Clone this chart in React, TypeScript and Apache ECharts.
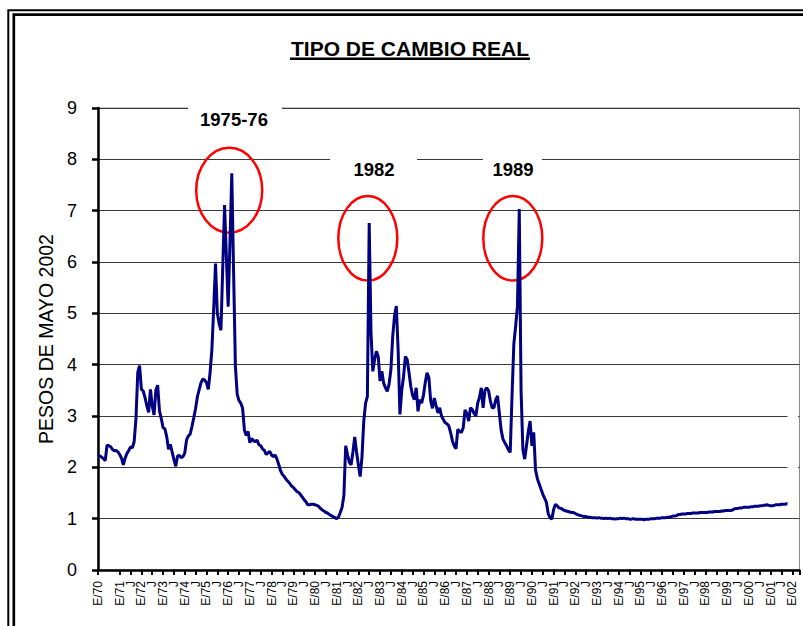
import React, { useEffect, useRef } from "react";
import * as echarts from "echarts";

// Monthly real exchange rate (pesos de mayo 2002), Jan of each year first
const v1970 = [2.25, 2.22, 2.2, 2.17, 2.13, 2.43, 2.42, 2.4, 2.35, 2.32, 2.33, 2.3];
const v1971 = [2.25, 2.18, 2.05, 2.18, 2.27, 2.33, 2.4, 2.38, 2.5, 2.95, 3.85, 3.98];
const v1972 = [3.52, 3.49, 3.36, 3.2, 3.07, 3.52, 3.2, 3.02, 3.5, 3.6, 3.1, 2.95];
const v1973 = [2.77, 2.75, 2.6, 2.35, 2.45, 2.3, 2.15, 2.02, 2.22, 2.23, 2.19, 2.21];
const v1974 = [2.28, 2.54, 2.61, 2.65, 2.8, 2.97, 3.15, 3.38, 3.52, 3.65, 3.72, 3.7];
const v1975 = [3.65, 3.52, 3.85, 4.3, 5.1, 5.97, 5.0, 4.8, 4.67, 5.9, 7.11, 6.1];
const v1976 = [5.13, 6.4, 7.73, 5.8, 3.96, 3.42, 3.3, 3.25, 3.15, 2.72, 2.62, 2.7];
const v1977 = [2.48, 2.56, 2.52, 2.5, 2.53, 2.44, 2.42, 2.36, 2.33, 2.25, 2.28, 2.31];
const v1978 = [2.24, 2.21, 2.24, 2.16, 2.05, 1.93, 1.86, 1.82, 1.77, 1.73, 1.69, 1.64];
const v1979 = [1.61, 1.57, 1.53, 1.51, 1.47, 1.42, 1.37, 1.33, 1.27, 1.27, 1.28, 1.28];
const v1980 = [1.27, 1.26, 1.24, 1.2, 1.17, 1.15, 1.12, 1.11, 1.08, 1.06, 1.04, 1.02];
const v1981 = [1.0, 1.03, 1.12, 1.22, 1.45, 2.42, 2.25, 2.1, 2.05, 2.3, 2.59, 2.3];
const v1982 = [2.05, 1.82, 2.2, 2.9, 3.25, 3.38, 6.76, 4.62, 3.87, 4.1, 4.26, 4.16];
const v1983 = [3.68, 3.87, 3.64, 3.55, 3.48, 3.62, 3.9, 4.55, 4.95, 5.14, 4.29, 3.03];
const v1984 = [3.5, 3.77, 4.16, 4.1, 3.85, 3.58, 3.4, 3.32, 3.55, 3.09, 3.32, 3.25];
const v1985 = [3.4, 3.65, 3.84, 3.75, 3.3, 3.15, 3.35, 3.2, 3.06, 3.16, 3.0, 2.93];
const v1986 = [2.87, 2.85, 2.81, 2.68, 2.52, 2.42, 2.36, 2.74, 2.7, 2.68, 2.77, 3.12];
const v1987 = [3.05, 2.9, 3.16, 3.13, 3.05, 3.0, 3.25, 3.36, 3.55, 3.16, 3.5, 3.55];
const v1988 = [3.49, 3.3, 3.16, 3.16, 3.32, 3.39, 3.05, 2.72, 2.55, 2.48, 2.42, 2.34];
const v1989 = [2.29, 3.4, 4.4, 4.75, 5.14, 7.03, 3.5, 2.35, 2.16, 2.42, 2.7, 2.9];
const v1990 = [2.42, 2.68, 1.95, 1.78, 1.68, 1.58, 1.48, 1.4, 1.32, 1.1, 1.02, 0.99];
const v1991 = [1.18, 1.28, 1.25, 1.21, 1.2, 1.18, 1.16, 1.15, 1.14, 1.13, 1.12, 1.12];
const v1992 = [1.1, 1.08, 1.07, 1.06, 1.05, 1.04, 1.04, 1.03, 1.03, 1.02, 1.02, 1.02];
const v1993 = [1.01, 1.02, 1.01, 1.01, 1.0, 1.01, 1.0, 1.01, 1.0, 1.0, 0.99, 1.0];
const v1994 = [1.0, 1.01, 1.0, 1.01, 1.0, 1.0, 0.99, 0.99, 1.0, 0.99, 0.99, 0.99];
const v1995 = [0.99, 0.99, 0.98, 0.99, 0.99, 0.99, 1.0, 1.0, 1.0, 1.01, 1.01, 1.01];
const v1996 = [1.02, 1.02, 1.02, 1.03, 1.03, 1.04, 1.05, 1.05, 1.06, 1.08, 1.08, 1.09];
const v1997 = [1.09, 1.09, 1.1, 1.1, 1.1, 1.11, 1.11, 1.11, 1.11, 1.12, 1.12, 1.12];
const v1998 = [1.12, 1.12, 1.13, 1.13, 1.13, 1.14, 1.14, 1.14, 1.14, 1.15, 1.15, 1.16];
const v1999 = [1.16, 1.16, 1.16, 1.17, 1.19, 1.2, 1.2, 1.21, 1.21, 1.22, 1.22, 1.22];
const v2000 = [1.22, 1.23, 1.23, 1.24, 1.24, 1.24, 1.25, 1.25, 1.26, 1.26, 1.27, 1.26];
const v2001 = [1.25, 1.25, 1.26, 1.27, 1.27, 1.27, 1.28, 1.28, 1.28, 1.29, 1.3];

const yearlySeries = [
  v1970, v1971, v1972, v1973, v1974, v1975, v1976, v1977, v1978, v1979,
  v1980, v1981, v1982, v1983, v1984, v1985, v1986, v1987, v1988, v1989,
  v1990, v1991, v1992, v1993, v1994, v1995, v1996, v1997, v1998, v1999,
  v2000, v2001,
];

const firstYear = 1970;
const lastYear = 2002;
const lastMonth = 5; // axis runs to May 2002

const titleText = "TIPO DE CAMBIO REAL";
const yAxisName = "PESOS DE MAYO 2002";
const peakLabels = ["1975-76", "1982", "1989"];

const categories: string[] = [];
for (let y = firstYear; y <= lastYear; y++) {
  for (let m = 1; m <= 12; m++) {
    if (y === lastYear && m > lastMonth) break;
    categories.push(`${y}-${String(m).padStart(2, "0")}`);
  }
}
const values: (number | null)[] = yearlySeries.flat();
while (values.length < categories.length) values.push(null);

// tick labels: "E/yy" for January (Enero), "J" for July (Julio)
const tickLabel = (cat: string) => {
  const [y, m] = cat.split("-");
  if (m === "01") return `E/${y.slice(2)}`;
  if (m === "07") return "J";
  return "";
};

const FONT = "'Liberation Sans', Arial, sans-serif";

export default function App() {
  const ref = useRef<HTMLDivElement>(null);
  useEffect(() => {
    if (!ref.current) return;
    const chart = echarts.init(ref.current, null, { renderer: "svg" });
    chart.setOption({
      animation: false,
      backgroundColor: "#ffffff",
      grid: {
        left: 98,
        right: 3.5,
        top: 108,
        bottom: 56,
        show: true,
        borderColor: "#8a8a8a",
        borderWidth: 1,
      },
      xAxis: {
        type: "category",
        data: categories,
        boundaryGap: false,
        axisLine: { lineStyle: { color: "#000", width: 2.5 } },
        axisTick: { show: true, interval: 5, length: 5, lineStyle: { color: "#000", width: 2 } },
        axisLabel: {
          interval: 5,
          rotate: 90,
          margin: 11,
          fontSize: 12,
          color: "#000",
          fontFamily: FONT,
          showMinLabel: true,
          showMaxLabel: true,
          hideOverlap: false,
          formatter: (v: string) => tickLabel(v),
        },
        splitLine: { show: false },
      },
      yAxis: {
        type: "value",
        min: 0,
        max: 9,
        interval: 1,
        name: yAxisName,
        nameLocation: "middle",
        nameRotate: 90,
        nameGap: 39,
        nameTextStyle: { fontSize: 19.5, color: "#000", fontFamily: FONT },
        axisLine: { show: true, lineStyle: { color: "#000", width: 2.5 } },
        axisTick: { show: true, length: 6, lineStyle: { color: "#000", width: 2.5 } },
        axisLabel: { margin: 21, fontSize: 18, color: "#000", fontFamily: FONT },
        splitLine: { show: true, lineStyle: { color: "#3a3a3a", width: 1 } },
      },
      series: [
        {
          type: "line",
          data: values,
          showSymbol: false,
          connectNulls: false,
          lineStyle: { color: "#000080", width: 3 },
          z: 2,
        },
      ],
      graphic: [
        {
          type: "rect",
          silent: true,
          z: 100,
          shape: { x: 8.3, y: 10.3, width: 1000, height: 1000 },
          style: { fill: "none", stroke: "#000", lineWidth: 2 },
        },
        {
          type: "rect",
          silent: true,
          z: 100,
          shape: { x: 13.8, y: 14.7, width: 1000, height: 1000 },
          style: { fill: "none", stroke: "#000", lineWidth: 2.7 },
        },
        {
          type: "text",
          z: 100,
          x: 410,
          y: 48,
          style: {
            text: titleText,
            fontSize: 21,
            fontWeight: "bold",
            fontFamily: FONT,
            fill: "#000",
            align: "center",
            verticalAlign: "middle",
          },
        },
        {
          type: "rect",
          z: 100,
          shape: { x: 290, y: 57.5, width: 240, height: 2.6 },
          style: { fill: "#000" },
        },
        // white boxes behind the peak labels
        { type: "rect", z: 50, shape: { x: 188, y: 100, width: 94, height: 36 }, style: { fill: "#fff" } },
        { type: "rect", z: 50, shape: { x: 330, y: 151, width: 87, height: 36 }, style: { fill: "#fff" } },
        { type: "rect", z: 50, shape: { x: 483, y: 151, width: 59, height: 36 }, style: { fill: "#fff" } },
        // blank box at the right edge that interrupts gridlines 2 and 3
        { type: "rect", z: 50, shape: { x: 787.5, y: 376, width: 10.5, height: 138 }, style: { fill: "#fff" } },
        {
          type: "text", z: 60, x: 234, y: 119,
          style: { text: peakLabels[0], fontSize: 18.5, fontWeight: "bold", fontFamily: FONT, fill: "#000", align: "center", verticalAlign: "middle" },
        },
        {
          type: "text", z: 60, x: 374, y: 169,
          style: { text: peakLabels[1], fontSize: 18.5, fontWeight: "bold", fontFamily: FONT, fill: "#000", align: "center", verticalAlign: "middle" },
        },
        {
          type: "text", z: 60, x: 513, y: 169,
          style: { text: peakLabels[2], fontSize: 18.5, fontWeight: "bold", fontFamily: FONT, fill: "#000", align: "center", verticalAlign: "middle" },
        },
        // red ellipses around the peaks
        {
          type: "ellipse", z: 1, silent: true,
          shape: { cx: 229.2, cy: 190.3, rx: 33, ry: 42.5 },
          style: { fill: "none", stroke: "#ff0000", lineWidth: 2.5 },
        },
        {
          type: "ellipse", z: 1, silent: true,
          shape: { cx: 367.8, cy: 238.3, rx: 29.5, ry: 42.3 },
          style: { fill: "none", stroke: "#ff0000", lineWidth: 2.5 },
        },
        {
          type: "ellipse", z: 1, silent: true,
          shape: { cx: 512.8, cy: 238.3, rx: 29.5, ry: 42.3 },
          style: { fill: "none", stroke: "#ff0000", lineWidth: 2.5 },
        },
      ],
    });
    return () => chart.dispose();
  }, []);
  return (
    <div
      ref={ref}
      style={{ position: "fixed", left: 0, top: 0, width: 803, height: 626, background: "#fff" }}
    />
  );
}
